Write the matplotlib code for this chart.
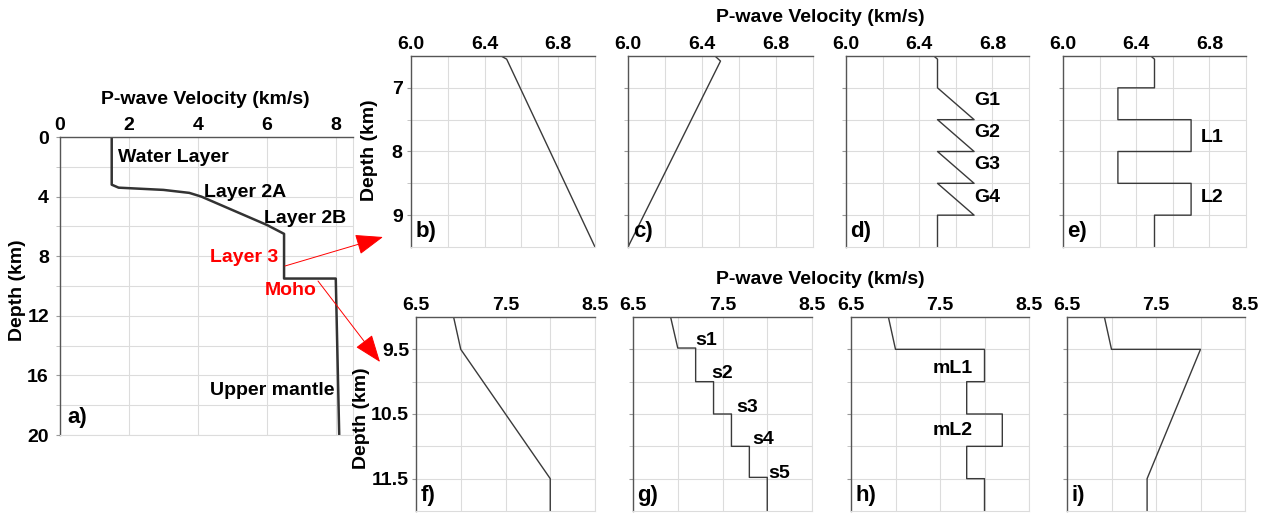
import matplotlib
matplotlib.use('Agg')
import matplotlib.pyplot as plt
from matplotlib.patches import FancyArrowPatch
from matplotlib.ticker import FixedLocator

plt.rcParams['font.family'] = ['Liberation Sans', 'DejaVu Sans']
plt.rcParams['font.weight'] = 'bold'

# ---------------- data ----------------
a_vel = [1.5, 1.5, 1.7, 3.0, 3.75, 4.1, 6.0, 6.5, 6.5, 8.0, 8.1]
a_depth = [0, 3.2, 3.4, 3.55, 3.75, 4.0, 5.9, 6.5, 9.5, 9.5, 20]

b_vel = [6.49, 6.52, 7.0]
b_depth = [6.5, 6.55, 9.5]
c_vel = [6.47, 6.5, 6.0]
c_depth = [6.5, 6.58, 9.5]
d_vel = [6.48, 6.5, 6.5, 6.7, 6.5, 6.7, 6.5, 6.7, 6.5, 6.7, 6.5, 6.5]
d_depth = [6.5, 6.55, 7.0, 7.5, 7.5, 8.0, 8.0, 8.5, 8.5, 9.0, 9.0, 9.5]
e_vel = [6.48, 6.5, 6.5, 6.3, 6.3, 6.7, 6.7, 6.3, 6.3, 6.7, 6.7, 6.5, 6.5]
e_depth = [6.5, 6.55, 7.0, 7.0, 7.5, 7.5, 8.0, 8.0, 8.5, 8.5, 9.0, 9.0, 9.5]

f_vel = [6.92, 7.0, 8.0, 8.0]
f_depth = [9.0, 9.5, 11.5, 12.0]
g_vel = [6.92, 7.0, 7.2, 7.2, 7.4, 7.4, 7.6, 7.6, 7.8, 7.8, 8.0, 8.0]
g_depth = [9.0, 9.48, 9.48, 10.0, 10.0, 10.5, 10.5, 11.0, 11.0, 11.48, 11.48, 12.0]
h_vel = [6.92, 7.0, 8.0, 8.0, 7.8, 7.8, 8.2, 8.2, 7.8, 7.8, 8.0, 8.0]
h_depth = [9.0, 9.5, 9.5, 10.0, 10.0, 10.5, 10.5, 11.0, 11.0, 11.5, 11.5, 12.0]
i_vel = [6.92, 7.0, 8.0, 7.4, 7.4]
i_depth = [9.0, 9.5, 9.5, 11.5, 12.0]

a_xticks = [0, 2, 4, 6, 8]
a_yticks = [0, 4, 8, 12, 16, 20]
top_xticks = [6.0, 6.4, 6.8]
top_xticklabels = ['6.0', '6.4', '6.8']
top_yticks = [7, 8, 9]
bot_xticks = [6.5, 7.5, 8.5]
bot_yticks = [9.5, 10.5, 11.5]

a_labels = [('Water Layer', 1.68, 1.4, 'black'), ('Layer 2A', 4.19, 3.7, 'black'),
            ('Layer 2B', 5.92, 5.5, 'black'), ('Layer 3', 4.36, 8.1, 'red'),
            ('Moho', 5.95, 10.3, 'red'), ('Upper mantle', 4.36, 17.0, 'black')]
d_labels = [('G1', 6.77, 7.2), ('G2', 6.77, 7.7), ('G3', 6.77, 8.2), ('G4', 6.77, 8.72)]
e_labels = [('L1', 6.815, 7.78), ('L2', 6.815, 8.73)]
g_labels = [('s1', 7.32, 9.37), ('s2', 7.5, 9.88), ('s3', 7.77, 10.4), ('s4', 7.95, 10.9), ('s5', 8.13, 11.42)]
h_labels = [('mL1', 7.64, 9.79), ('mL2', 7.64, 10.75)]

# ---------------- figure ----------------
W, H = 1270, 513
fig = plt.figure(figsize=(12.7, 5.13), dpi=100)
FS = 14
TFS = 14
GRID = '#dcdcdc'
SPINE = '#555555'
LINE = '#3a3a3a'


def add_ax(l, r, t, b):
    return fig.add_axes([l / W, 1 - b / H, (r - l) / W, (b - t) / H])


def style(ax, xlim, ylim, xticks, yticks, xgrid, ygrid, xlabels=None):
    ax.set_xlim(*xlim)
    ax.set_ylim(ylim[1], ylim[0])
    ax.xaxis.tick_top()
    ax.set_xticks(xticks)
    if xlabels is not None:
        ax.set_xticklabels(xlabels)
    ax.set_yticks(yticks)
    ax.xaxis.set_minor_locator(FixedLocator(xgrid))
    ax.yaxis.set_minor_locator(FixedLocator(ygrid))
    ax.grid(True, which='both', color=GRID, lw=0.8)
    ax.set_axisbelow(True)
    ax.tick_params(axis='both', which='major', labelsize=TFS, length=3, color='#999999', pad=3)
    ax.tick_params(axis='x', which='both', length=0, pad=2)
    ax.tick_params(axis='y', which='minor', length=3, color='#bbbbbb')
    for lab in ax.get_xticklabels() + ax.get_yticklabels():
        lab.set_fontweight('bold')
    for s in ['top', 'left']:
        ax.spines[s].set_color(SPINE)
        ax.spines[s].set_linewidth(1.0)
    for s in ['right', 'bottom']:
        ax.spines[s].set_color(GRID)
        ax.spines[s].set_linewidth(0.8)


def letter(ax, s):
    ax.text(0.025, 0.025, s, transform=ax.transAxes, fontsize=16, fontweight='bold',
            ha='left', va='bottom')


# panel a
ax = add_ax(60, 353, 137, 435)
style(ax, (0, 8.5), (0, 20), a_xticks, a_yticks, [2, 4, 6, 8], list(range(2, 20, 2)))
ax.plot(a_vel, a_depth, color='#333333', lw=1.8)
for txt, x, y, c in a_labels:
    ax.text(x, y, txt, color=c, fontsize=FS, fontweight='bold', ha='left', va='center')
letter(ax, 'a)')
ax.tick_params(axis='y', which='major', pad=5)

# top row
top_pos = [(411, 595), (628, 813), (846, 1029), (1063, 1246)]
top_data = [(b_vel, b_depth, 'b)', []), (c_vel, c_depth, 'c)', []),
            (d_vel, d_depth, 'd)', d_labels), (e_vel, e_depth, 'e)', e_labels)]
for (l, r), (v, d, let, labs) in zip(top_pos, top_data):
    ax = add_ax(l, r, 56, 247)
    style(ax, (6.0, 7.0), (6.5, 9.5), top_xticks, top_yticks,
          [6.2, 6.4, 6.6, 6.8], [7.0, 7.5, 8.0, 8.5, 9.0], top_xticklabels)
    if l != 411:
        ax.set_yticklabels([])
    ax.plot(v, d, color=LINE, lw=1.0)
    for txt, x, y in labs:
        ax.text(x, y, txt, fontsize=FS, fontweight='bold', ha='center', va='center')
    letter(ax, let)

# bottom row
bot_pos = [(416, 595), (633, 812), (851, 1029), (1067, 1245)]
bot_data = [(f_vel, f_depth, 'f)', []), (g_vel, g_depth, 'g)', g_labels),
            (h_vel, h_depth, 'h)', h_labels), (i_vel, i_depth, 'i)', [])]
for (l, r), (v, d, let, labs) in zip(bot_pos, bot_data):
    ax = add_ax(l, r, 317, 511)
    style(ax, (6.5, 8.5), (9.0, 12.0), bot_xticks, bot_yticks,
          [7.0, 7.5, 8.0], [9.5, 10.0, 10.5, 11.0, 11.5])
    if l != 416:
        ax.set_yticklabels([])
    else:
        ax.tick_params(axis='y', which='major', pad=2)
    ax.plot(v, d, color=LINE, lw=1.0)
    for txt, x, y in labs:
        ax.text(x, y, txt, fontsize=FS, fontweight='bold', ha='center', va='center')
    letter(ax, let)


# titles and axis labels
def ftext(x, y, s, **kw):
    fig.text(x / W, 1 - y / H, s, fontsize=FS, fontweight='bold', ha='center', va='center', **kw)


ftext(205, 100, 'P-wave Velocity (km/s)')
ftext(820, 17, 'P-wave Velocity (km/s)')
ftext(820, 279, 'P-wave Velocity (km/s)')
ftext(18, 290, 'Depth (km)', rotation=90)
ftext(370, 150, 'Depth (km)', rotation=90)
ftext(361, 418, 'Depth (km)', rotation=90)

# red arrows
for (x0, y0), (x1, y1) in [((285, 266), (383, 237)), ((318, 281), (380, 362))]:
    arr = FancyArrowPatch((x0 / W, 1 - y0 / H), (x1 / W, 1 - y1 / H), transform=fig.transFigure,
                          arrowstyle='-|>,head_length=1.2,head_width=0.45', mutation_scale=14.5,
                          color='red', lw=0.7, shrinkA=0, shrinkB=0)
    fig.patches.append(arr)

fig.savefig('out.png', dpi=100, facecolor='white')
